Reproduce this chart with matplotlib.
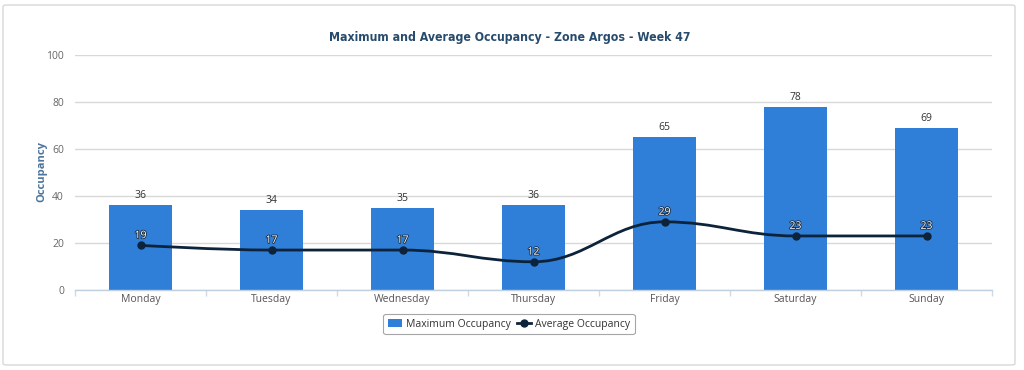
import matplotlib
matplotlib.use("Agg")
import matplotlib.pyplot as plt
import numpy as np
from matplotlib.patches import FancyBboxPatch, Rectangle
from matplotlib.path import Path
from matplotlib.patches import PathPatch
from matplotlib.lines import Line2D
import matplotlib.patheffects as pe
from matplotlib import font_manager

plt.rcParams['font.family'] = ['Open Sans', 'DejaVu Sans']

days = ["Monday", "Tuesday", "Wednesday", "Thursday", "Friday", "Saturday", "Sunday"]
max_occ = [36, 34, 35, 36, 65, 78, 69]
avg_occ = [19, 17, 17, 12, 29, 23, 23]
yticks = [0, 20, 40, 60, 80, 100]

BAR = "#2f7ed8"
LINE = "#0d233a"

# pick a condensed bold font for the title if available
title_kw = dict(family=["Roboto", "DejaVu Sans"], fontsize=9, fontweight="bold")
try:
    fp = font_manager.FontProperties(family="DejaVu Sans", weight="bold", stretch="condensed")
    fpath = font_manager.findfont(fp, fallback_to_default=False)
    if "Condensed" in fpath:
        title_kw = dict(fontproperties=font_manager.FontProperties(fname=fpath, size=8.8))
except Exception:
    pass

fig = plt.figure(figsize=(10.24, 3.70), dpi=100)
fig.patch.set_facecolor("white")

# card border
card = FancyBboxPatch((3 / 1024, 5 / 370), 1012 / 1024, 360 / 370,
                      boxstyle="round,pad=0,rounding_size=0.004",
                      transform=fig.transFigure, facecolor="white",
                      edgecolor="#d8d8d8", linewidth=1.0, zorder=-10)
fig.patches.append(card)

ax = fig.add_axes([75 / 1024, 1 - 290 / 370, 917 / 1024, 235 / 370])
ax.set_zorder(1)
ax.set_facecolor("none")
x = np.arange(len(days))
ax.set_xlim(-0.5, len(days) - 0.5)
ax.set_ylim(0, 100)

for s in ["top", "right", "left"]:
    ax.spines[s].set_visible(False)
ax.spines["bottom"].set_color("#c0d0e0")
ax.spines["bottom"].set_linewidth(1)

ax.set_yticks(yticks)
ax.yaxis.grid(True, color="#d8d8d8", linewidth=1)
ax.set_axisbelow(True)
ax.tick_params(axis="y", length=0, labelsize=7.5, labelcolor="#666666", pad=8)
ax.set_xticks(x)
ax.set_xticklabels(days)
ax.tick_params(axis="x", length=0, labelsize=7.5, labelcolor="#555555", pad=3)
ax.set_xticks(np.arange(len(days) + 1) - 0.5, minor=True)
ax.tick_params(axis="x", which="minor", length=4, color="#d0dae6", width=1)

bars = ax.bar(x, max_occ, width=0.475, color=BAR, zorder=2)
for xi, v in zip(x, max_occ):
    ax.annotate(str(v), (xi, v), xytext=(0, 3), textcoords="offset points",
                ha="center", va="bottom", fontsize=7.5, color="#333333", zorder=5)

# Highcharts-style spline
def spline_path(xs, ys, smoothing=1.5):
    n = len(xs)
    denom = smoothing + 1
    lc = [None] * n
    rc = [None] * n
    for i in range(1, n - 1):
        px, py = xs[i], ys[i]
        lx, ly = xs[i - 1], ys[i - 1]
        nx, ny = xs[i + 1], ys[i + 1]
        lcx = (smoothing * px + lx) / denom
        lcy = (smoothing * py + ly) / denom
        rcx = (smoothing * px + nx) / denom
        rcy = (smoothing * py + ny) / denom
        if rcx != lcx:
            corr = ((rcy - lcy) * (rcx - px)) / (rcx - lcx) + py - rcy
            lcy += corr
            rcy += corr
        if lcy > max(ly, py):
            lcy = max(ly, py)
            rcy = 2 * py - lcy
        elif lcy < min(ly, py):
            lcy = min(ly, py)
            rcy = 2 * py - lcy
        if rcy > max(py, ny):
            rcy = max(py, ny)
            lcy = 2 * py - rcy
        elif rcy < min(py, ny):
            rcy = min(py, ny)
            lcy = 2 * py - rcy
        lc[i] = (lcx, lcy)
        rc[i] = (rcx, rcy)
    verts = [(xs[0], ys[0])]
    codes = [Path.MOVETO]
    for i in range(1, n):
        c1 = rc[i - 1] if rc[i - 1] is not None else (xs[i - 1], ys[i - 1])
        c2 = lc[i] if lc[i] is not None else (xs[i], ys[i])
        verts += [c1, c2, (xs[i], ys[i])]
        codes += [Path.CURVE4] * 3
    return Path(verts, codes)

path = spline_path(list(x.astype(float)), [float(v) for v in avg_occ])
ax.add_patch(PathPatch(path, facecolor="none", edgecolor=LINE, linewidth=2, zorder=3))
ax.plot(x, avg_occ, "o", color=LINE, markersize=5, zorder=4)
for xi, v in zip(x, avg_occ):
    ax.annotate(str(v), (xi, v), xytext=(0, 3), textcoords="offset points",
                ha="center", va="bottom", fontsize=7.5, color="white", zorder=5,
                path_effects=[pe.withStroke(linewidth=1.2, foreground="#1a2a3a")])

fig.text(510 / 1024, 1 - 38 / 370, "Maximum and Average Occupancy - Zone Argos - Week 47",
         ha="center", va="center", color="#274b6d", **title_kw)
fig.text(42 / 1024, 1 - 172 / 370, "Occupancy", rotation=90, ha="center", va="center",
         fontsize=8, fontweight="bold", color="#4d759e")

handles = [Rectangle((0, 0), 1, 1, facecolor=BAR, edgecolor="none"),
           Line2D([0], [0], color=LINE, marker="o", markersize=5, linewidth=2)]
leg = fig.legend(handles, ["Maximum Occupancy", "Average Occupancy"],
                 loc="center", bbox_to_anchor=(509 / 1024, 1 - 324 / 370),
                 ncol=2, fontsize=7.5, frameon=True, handlelength=1.3,
                 handleheight=0.9, columnspacing=0.6, handletextpad=0.4,
                 borderpad=0.45, fancybox=True)
leg.get_frame().set_edgecolor("#909090")
leg.get_frame().set_linewidth(0.8)
for t in leg.get_texts():
    t.set_color("#333333")

fig.savefig("out.png", dpi=100, facecolor="white")
